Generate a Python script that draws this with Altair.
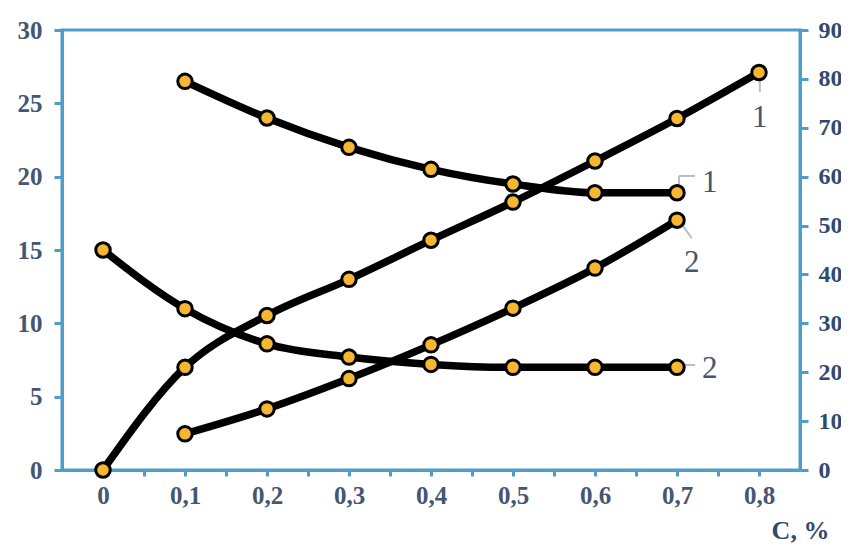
import altair as alt
import pandas as pd

# ---- data ----
c_values = [0.0, 0.1, 0.2, 0.3, 0.4, 0.5, 0.6, 0.7, 0.8]
left_curve1 = [None, 26.5, 24.0, 22.0, 20.5, 19.5, 18.9, 18.9, None]
left_curve2 = [15.0, 11.0, 8.6, 7.7, 7.2, 7.0, 7.0, 7.0, None]
right_curve1 = [0.0, 21.0, 31.6, 39.0, 47.0, 54.8, 63.2, 71.9, 81.3]
right_curve2 = [None, 7.4, 12.5, 18.7, 25.6, 33.1, 41.3, 51.1, None]

left_ticks = [0, 5, 10, 15, 20, 25, 30]
right_ticks = [0, 10, 20, 30, 40, 50, 60, 70, 80, 90]
x_ticks = [round(i * 0.05, 2) for i in range(0, 17)]

# curve labels (text, x, y) and their leader lines (x, y, x2, y2)
left_labels = [("1", 0.740, 19.6), ("2", 0.740, 6.9)]
left_leaders = [(0.7025, 19.45, 0.7025, 20.05), (0.7025, 20.05, 0.722, 20.05),
                (0.707, 7.16, 0.722, 7.16)]
right_labels = [("1", 0.801, 72.0), ("2", 0.718, 42.3)]
right_leaders = [(0.801, 80.0, 0.801, 77.3), (0.707, 50.0, 0.718, 47.4)]

AXIS_BLUE = "#4f9dc8"
TEXT_LEFT = "#445672"
TEXT_RIGHT = "#2f4a6e"
POINT_FILL = "#f5b731"


def long_df(series):
    rows = []
    for name, vals in series.items():
        for x, y in zip(c_values, vals):
            if y is not None:
                rows.append({"series": name, "c": x, "v": y})
    return pd.DataFrame(rows)


left_df = long_df({"1": left_curve1, "2": left_curve2})
right_df = long_df({"1": right_curve1, "2": right_curve2})

x_enc = alt.X(
    "c:Q",
    scale=alt.Scale(domain=[-0.05, 0.85], nice=False, zero=False),
    axis=alt.Axis(
        values=x_ticks,
        labelExpr="datum.value == 0 ? '0' : (abs(round(datum.value*20)) % 2 == 0 ? replace(format(datum.value, '.1f'), '.', ',') : '')",
        title="C, %",
        titleX=738, titleY=60, titleAlign="center", titleBaseline="middle",
        titleFont="Liberation Serif", titleFontSize=26, titleFontWeight="bold",
        titleColor=TEXT_RIGHT,
        labelFont="Liberation Serif", labelFontSize=25, labelFontWeight=600,
        labelColor=TEXT_LEFT,
        labelPadding=7, tickSize=6, tickWidth=3, tickColor=AXIS_BLUE,
        domainColor=AXIS_BLUE, domainWidth=3, grid=False,
    ),
)

left_scale = alt.Scale(domain=[0, 30], nice=False)
right_scale = alt.Scale(domain=[0, 90], nice=False)

left_axis = alt.Axis(
    orient="left", values=left_ticks, title=None, grid=False,
    labelFont="Liberation Serif", labelFontSize=25, labelFontWeight=600,
    labelColor=TEXT_LEFT,
    labelPadding=12, tickSize=8, tickWidth=3, tickColor=AXIS_BLUE,
    domainColor=AXIS_BLUE, domainWidth=3,
)
right_axis = alt.Axis(
    orient="right", values=right_ticks, title=None, grid=False,
    labelFont="Liberation Serif", labelFontSize=24, labelFontWeight="bold",
    labelColor=TEXT_RIGHT, labelPadding=10, tickSize=8, tickWidth=3,
    tickColor=AXIS_BLUE, domainColor=AXIS_BLUE, domainWidth=3,
)


def group(df, scale, axis, labels, leaders):
    base = alt.Chart(df).encode(x=x_enc)
    lines = base.mark_line(color="black", strokeWidth=7.5, interpolate="monotone").encode(
        y=alt.Y("v:Q", scale=scale, axis=axis), detail="series:N"
    )
    pts = base.mark_point(
        filled=True, fill=POINT_FILL, stroke="black", strokeWidth=3, size=210, opacity=1
    ).encode(y=alt.Y("v:Q", scale=scale, axis=axis))
    lab_df = pd.DataFrame(labels, columns=["t", "c", "v"])
    txt = alt.Chart(lab_df).mark_text(
        font="Liberation Serif", fontSize=31, color=TEXT_LEFT, align="center", baseline="middle"
    ).encode(x="c:Q", y=alt.Y("v:Q", scale=scale, axis=axis), text="t:N")
    lead_df = pd.DataFrame(leaders, columns=["c", "v", "c2", "v2"])
    lead = alt.Chart(lead_df).mark_rule(color="#b9bcc2", strokeWidth=2).encode(
        x="c:Q", y=alt.Y("v:Q", scale=scale, axis=axis), x2="c2:Q", y2="v2:Q"
    )
    return alt.layer(lines, lead, pts, txt)


left = group(left_df, left_scale, left_axis, left_labels, left_leaders)
right = group(right_df, right_scale, right_axis, right_labels, right_leaders)

chart = (
    alt.layer(left, right)
    .resolve_scale(y="independent")
    .properties(
        width=738,
        height=440,
        autosize=alt.AutoSizeParams(type="none"),
        padding={"left": 54, "top": 22, "right": 41, "bottom": 75},
        background="white",
    )
    .configure_view(stroke=AXIS_BLUE, strokeWidth=3)
)

chart.save("out.html", embed_options={"renderer": "svg", "actions": False})
